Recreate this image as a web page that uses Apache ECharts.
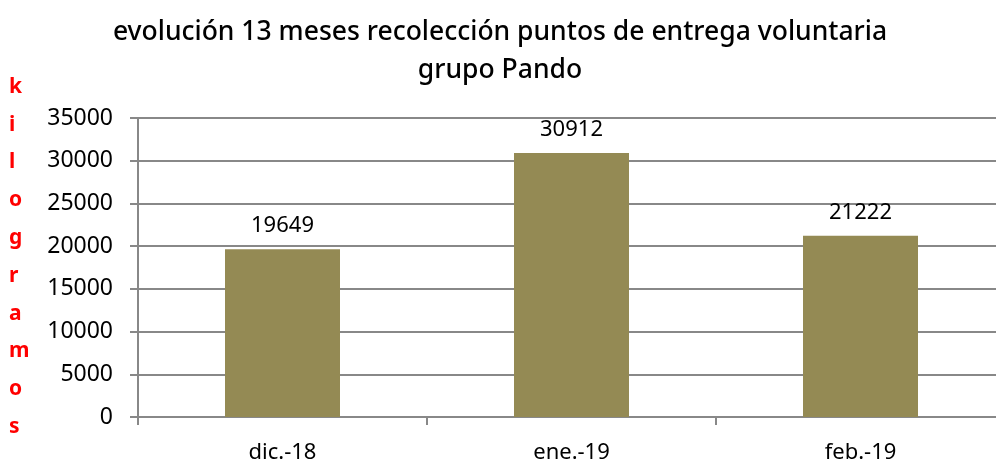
<!DOCTYPE html>
<html><head><meta charset="utf-8">
<script src="https://cdn.jsdelivr.net/npm/echarts@6/dist/echarts.min.js"></script>
<style>html,body{margin:0;padding:0;background:#fff;overflow:hidden}#c{width:1005px;height:464px}</style>
</head><body><div id="c"></div>
<script>
const categories = ['dic.-18', 'ene.-19', 'feb.-19'];
const values = [19649, 30912, 21222];
const yTicks = [0, 5000, 10000, 15000, 20000, 25000, 30000, 35000];
const titleText = 'evolución 13 meses recolección puntos de entrega voluntaria\ngrupo Pando';
const yName = 'kilogramos';

const chart = echarts.init(document.getElementById('c'));
chart.setOption({
  animation: false,
  backgroundColor: '#fff',
  title: {
    text: titleText, left: 495, top: 8, textAlign: 'center',
    textStyle: { fontFamily: 'Noto Sans', fontSize: 26.5, fontWeight: 500, color: '#000', lineHeight: 38 }
  },
  graphic: [{
    type: 'text', left: 9, top: 68,
    style: { text: yName.split('').join('\n'), fontFamily: 'Noto Sans', fontSize: 21, fontWeight: 'bold',
      fill: '#ff0000', lineHeight: 37.8, align: 'center', width: 20 }
  }],
  grid: { left: 138, top: 118, right: 0, bottom: 47, containLabel: false },
  xAxis: {
    type: 'category', data: categories,
    axisLine: { lineStyle: { color: '#888', width: 2 } },
    axisTick: { show: true, length: 8, lineStyle: { color: '#888', width: 2 } },
    axisLabel: { margin: 25, fontFamily: 'Noto Sans', fontSize: 22, color: '#000' }
  },
  yAxis: {
    type: 'value', min: yTicks[0], max: yTicks[yTicks.length - 1], interval: 5000,
    axisLine: { show: true, lineStyle: { color: '#888', width: 2 } },
    axisTick: { show: true, length: 8, lineStyle: { color: '#888', width: 2 } },
    splitLine: { lineStyle: { color: '#888', width: 2 } },
    axisLabel: { margin: 25, fontFamily: 'Noto Sans', fontSize: 23, color: '#000', formatter: v => String(v) }
  },
  series: [{
    type: 'bar', data: values, barWidth: 115,
    itemStyle: { color: '#948A54' },
    label: { show: true, position: 'top', distance: 12, fontFamily: 'Noto Sans', fontSize: 22, color: '#000' }
  }]
});
</script></body></html>
